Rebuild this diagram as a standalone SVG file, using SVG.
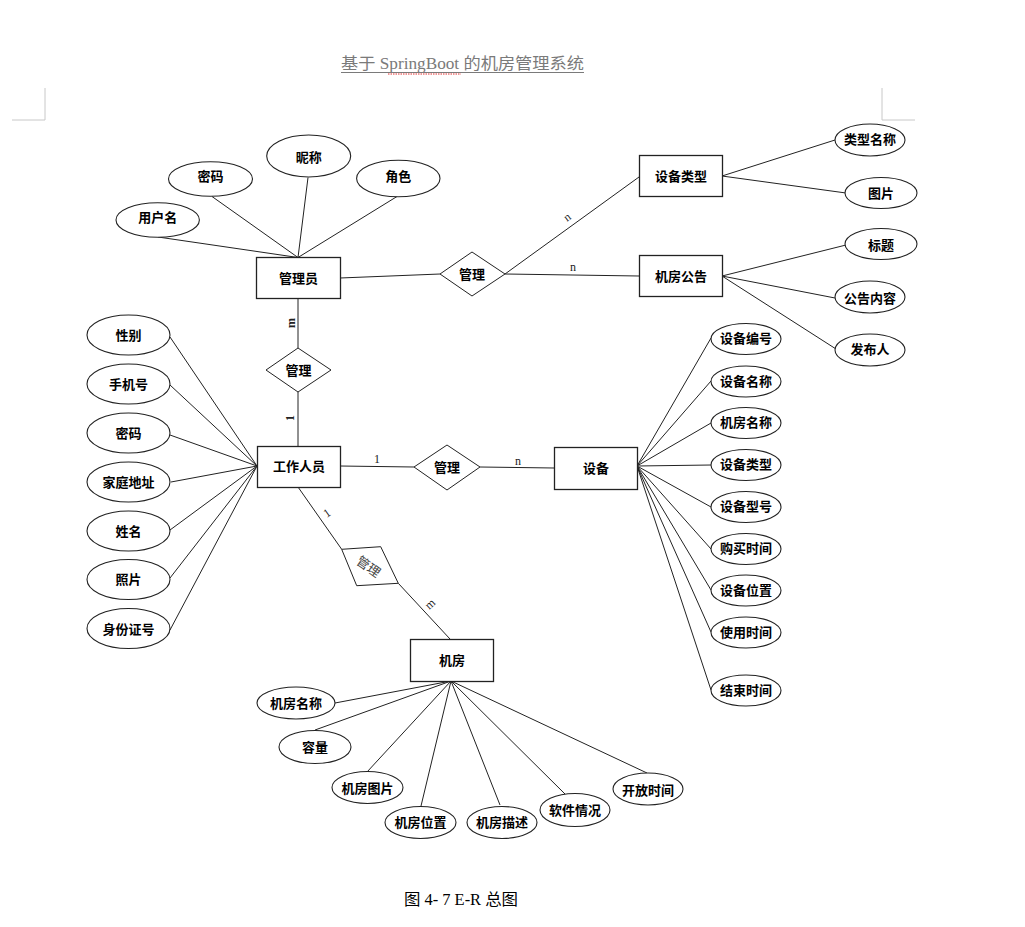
<svg xmlns="http://www.w3.org/2000/svg" width="1025" height="927" viewBox="0 0 1025 927">
<style>
.ent{fill:#fff;stroke:#222;stroke-width:1.3}
.rel{fill:#fff;stroke:#222;stroke-width:1}
.att{fill:#fff;stroke:#222;stroke-width:1.1}
.lbl{font-family:"Noto Sans CJK SC","Noto Sans CJK JP",sans-serif;font-size:13px;font-weight:bold;fill:#000;text-anchor:middle;dominant-baseline:central}
.card{font-family:"Liberation Serif",serif;font-size:12px;fill:#222;text-anchor:middle;dominant-baseline:central}
.conn line{stroke:#222;stroke-width:1}
.mark{stroke:#c8c8c8;stroke-width:1;fill:none}
</style>
<rect width="1025" height="927" fill="#fff"/>
<!-- page header -->
<g id="header">
<text x="341" y="69" textLength="243" lengthAdjust="spacingAndGlyphs" font-family="Liberation Serif,'Noto Sans CJK SC',serif" font-size="16" fill="#7a7a7a">基于 SpringBoot 的机房管理系统</text>
<line x1="341" y1="72.5" x2="584" y2="72.5" stroke="#7a7a7a" stroke-width="1"/>
<line x1="388" y1="74" x2="461" y2="74" stroke="#e03030" stroke-width="1" stroke-dasharray="1.5,1"/>
<path class="mark" d="M45,88 V120 H12"/>
<path class="mark" d="M882,88 V120 H915"/>
</g>
<!-- connectors -->
<g id="connectors" class="conn">
<line x1="158" y1="237" x2="298" y2="257.5"/>
<line x1="212" y1="196.5" x2="298" y2="257.5"/>
<line x1="308" y1="177.5" x2="298" y2="257.5"/>
<line x1="397" y1="196.5" x2="298" y2="257.5"/>
<line x1="340" y1="278" x2="440" y2="274"/>
<line x1="505" y1="274" x2="639" y2="177"/>
<line x1="505" y1="274" x2="639" y2="276"/>
<line x1="722" y1="176" x2="835" y2="140"/>
<line x1="722" y1="176" x2="846" y2="193"/>
<line x1="722" y1="276" x2="846" y2="245"/>
<line x1="722" y1="276" x2="835" y2="298"/>
<line x1="722" y1="276" x2="836" y2="349"/>
<line x1="298" y1="298" x2="298" y2="348"/>
<line x1="298" y1="392" x2="298" y2="446"/>
<line x1="170" y1="337" x2="257" y2="466"/>
<line x1="170" y1="385" x2="257" y2="466"/>
<line x1="170" y1="435" x2="257" y2="466"/>
<line x1="171" y1="482" x2="257" y2="466"/>
<line x1="170" y1="530" x2="257" y2="466"/>
<line x1="170" y1="578" x2="257" y2="466"/>
<line x1="170" y1="630" x2="257" y2="466"/>
<line x1="340" y1="466" x2="414" y2="467"/>
<line x1="480" y1="467" x2="554" y2="468"/>
<line x1="637" y1="466" x2="711" y2="338"/>
<line x1="637" y1="466" x2="711" y2="381"/>
<line x1="637" y1="466" x2="711" y2="423"/>
<line x1="637" y1="466" x2="711" y2="465"/>
<line x1="637" y1="466" x2="711" y2="507"/>
<line x1="637" y1="466" x2="711" y2="549"/>
<line x1="637" y1="466" x2="711" y2="590"/>
<line x1="637" y1="466" x2="711" y2="632"/>
<line x1="637" y1="466" x2="711" y2="690"/>
<line x1="298" y1="487" x2="341.7" y2="549.3"/>
<line x1="398.3" y1="583.3" x2="450" y2="639"/>
<line x1="451" y1="681" x2="335" y2="703"/>
<line x1="451" y1="681" x2="315" y2="730"/>
<line x1="451" y1="681" x2="367" y2="772"/>
<line x1="451" y1="681" x2="421" y2="806"/>
<line x1="451" y1="681" x2="500" y2="805"/>
<line x1="451" y1="681" x2="565" y2="794"/>
<line x1="451" y1="681" x2="647" y2="773"/>
</g>
<!-- cardinality labels -->
<g id="cardinalities">
<text class="card" x="567" y="217" transform="rotate(-36 567 217)">n</text>
<text class="card" x="573" y="267">n</text>
<text class="card" x="291" y="323" style="font-weight:bold" transform="rotate(-90 291 323)">m</text>
<text class="card" x="290" y="418" style="font-weight:bold" transform="rotate(-90 290 418)">1</text>
<text class="card" x="377" y="459">1</text>
<text class="card" x="518" y="461">n</text>
<text class="card" x="327" y="513" transform="rotate(-35 327 513)">1</text>
<text class="card" x="430" y="604" transform="rotate(-43 430 604)">m</text>
</g>
<!-- entities -->
<g id="admin"><rect class="ent" x="256.5" y="257.5" width="84" height="41"/><text class="lbl" x="298.5" y="277">管理员</text></g>
<g id="devtype"><rect class="ent" x="639.5" y="155.5" width="83" height="41"/><text class="lbl" x="681" y="175">设备类型</text></g>
<g id="notice"><rect class="ent" x="639.5" y="255.5" width="83" height="41"/><text class="lbl" x="681" y="275">机房公告</text></g>
<g id="staff"><rect class="ent" x="257.5" y="446.5" width="83" height="41"/><text class="lbl" x="299" y="465">工作人员</text></g>
<g id="device"><rect class="ent" x="554.5" y="447.5" width="83" height="42"/><text class="lbl" x="596" y="467">设备</text></g>
<g id="room"><rect class="ent" x="410.5" y="639.5" width="83" height="42"/><text class="lbl" x="452" y="659">机房</text></g>
<!-- relationships -->
<g id="rel-top"><polygon class="rel" points="440,274 472,252 505,274 472,296"/><text class="lbl" x="472" y="273">管理</text></g>
<g id="rel-vert"><polygon class="rel" points="266,370 298,348 331,370 298,392"/><text class="lbl" x="298.5" y="369">管理</text></g>
<g id="rel-mid"><polygon class="rel" points="414,467 447,445 480,467 447,490"/><text class="lbl" x="447" y="466">管理</text></g>
<g id="rel-room"><polygon class="rel" points="341.7,549.3 380.7,546.7 398.3,583.3 356.7,585.7"/><text class="lbl" x="369" y="566" style="font-weight:normal;fill:#444" transform="rotate(35 369 566)">管理</text></g>
<!-- admin attributes -->
<g id="a-username"><ellipse class="att" cx="157.7" cy="220" rx="41.7" ry="17.3"/><text class="lbl" x="157.7" y="216">用户名</text></g>
<g id="a-password"><ellipse class="att" cx="210.5" cy="179" rx="42" ry="17.3"/><text class="lbl" x="210.5" y="175">密码</text></g>
<g id="a-nickname"><ellipse class="att" cx="308.7" cy="156" rx="42" ry="21"/><text class="lbl" x="308.7" y="156">昵称</text></g>
<g id="a-role"><ellipse class="att" cx="398.3" cy="178.5" rx="41.7" ry="18.3"/><text class="lbl" x="398.3" y="175">角色</text></g>
<!-- device type / notice attributes -->
<g id="a-typename"><ellipse class="att" cx="870" cy="140" rx="35" ry="16"/><text class="lbl" x="870" y="138">类型名称</text></g>
<g id="a-typeimg"><ellipse class="att" cx="881" cy="193" rx="36" ry="15.5"/><text class="lbl" x="881" y="192">图片</text></g>
<g id="a-title"><ellipse class="att" cx="881" cy="244" rx="36" ry="15.5"/><text class="lbl" x="881" y="244">标题</text></g>
<g id="a-content"><ellipse class="att" cx="870" cy="297" rx="35" ry="16"/><text class="lbl" x="870" y="297">公告内容</text></g>
<g id="a-publisher"><ellipse class="att" cx="870" cy="350" rx="35" ry="16"/><text class="lbl" x="870" y="348">发布人</text></g>
<!-- staff attributes -->
<g id="s-gender"><ellipse class="att" cx="128.5" cy="335" rx="41.5" ry="20"/><text class="lbl" x="128.5" y="334">性别</text></g>
<g id="s-phone"><ellipse class="att" cx="128.5" cy="384" rx="41.5" ry="20"/><text class="lbl" x="128.5" y="383">手机号</text></g>
<g id="s-password"><ellipse class="att" cx="128.5" cy="433" rx="41.5" ry="20"/><text class="lbl" x="128.5" y="432">密码</text></g>
<g id="s-address"><ellipse class="att" cx="128.5" cy="482" rx="41.5" ry="20"/><text class="lbl" x="128.5" y="481">家庭地址</text></g>
<g id="s-name"><ellipse class="att" cx="128.5" cy="531" rx="41.5" ry="20"/><text class="lbl" x="128.5" y="530">姓名</text></g>
<g id="s-photo"><ellipse class="att" cx="128.5" cy="579.5" rx="41.5" ry="20"/><text class="lbl" x="128.5" y="578">照片</text></g>
<g id="s-idcard"><ellipse class="att" cx="128.5" cy="628.5" rx="41.5" ry="20"/><text class="lbl" x="128.5" y="628">身份证号</text></g>
<!-- device attributes -->
<g id="d-no"><ellipse class="att" cx="746" cy="339" rx="35" ry="15.5"/><text class="lbl" x="746" y="337">设备编号</text></g>
<g id="d-name"><ellipse class="att" cx="746" cy="381.5" rx="35" ry="15.5"/><text class="lbl" x="746" y="380">设备名称</text></g>
<g id="d-room"><ellipse class="att" cx="746" cy="423" rx="35" ry="15.5"/><text class="lbl" x="746" y="421">机房名称</text></g>
<g id="d-type"><ellipse class="att" cx="746" cy="465" rx="35" ry="15.5"/><text class="lbl" x="746" y="463">设备类型</text></g>
<g id="d-model"><ellipse class="att" cx="746" cy="507" rx="35" ry="15.5"/><text class="lbl" x="746" y="505">设备型号</text></g>
<g id="d-buy"><ellipse class="att" cx="746" cy="549" rx="35" ry="15.5"/><text class="lbl" x="746" y="547">购买时间</text></g>
<g id="d-loc"><ellipse class="att" cx="746" cy="590.5" rx="35" ry="15.5"/><text class="lbl" x="746" y="589">设备位置</text></g>
<g id="d-use"><ellipse class="att" cx="746" cy="632.5" rx="35" ry="15.5"/><text class="lbl" x="746" y="631">使用时间</text></g>
<g id="d-end"><ellipse class="att" cx="746" cy="690.5" rx="35" ry="15.5"/><text class="lbl" x="746" y="689">结束时间</text></g>
<!-- room attributes -->
<g id="r-name"><ellipse class="att" cx="296" cy="703" rx="39" ry="16"/><text class="lbl" x="296" y="702">机房名称</text></g>
<g id="r-cap"><ellipse class="att" cx="315" cy="747" rx="36" ry="16.5"/><text class="lbl" x="315" y="746">容量</text></g>
<g id="r-img"><ellipse class="att" cx="367.5" cy="787.5" rx="35.5" ry="16"/><text class="lbl" x="367.5" y="787">机房图片</text></g>
<g id="r-loc"><ellipse class="att" cx="420.5" cy="822.5" rx="35.5" ry="16"/><text class="lbl" x="420.5" y="821">机房位置</text></g>
<g id="r-desc"><ellipse class="att" cx="502" cy="822.5" rx="35" ry="16"/><text class="lbl" x="502" y="821">机房描述</text></g>
<g id="r-soft"><ellipse class="att" cx="575" cy="810" rx="35" ry="16.5"/><text class="lbl" x="575" y="809">软件情况</text></g>
<g id="r-open"><ellipse class="att" cx="648" cy="789" rx="35" ry="16"/><text class="lbl" x="648" y="789">开放时间</text></g>
<!-- caption -->
<text x="404" y="905" textLength="114" lengthAdjust="spacingAndGlyphs" font-family="Liberation Serif,'Noto Sans CJK SC',serif" font-size="16" fill="#000">图 4- 7 E-R 总图</text>
</svg>
